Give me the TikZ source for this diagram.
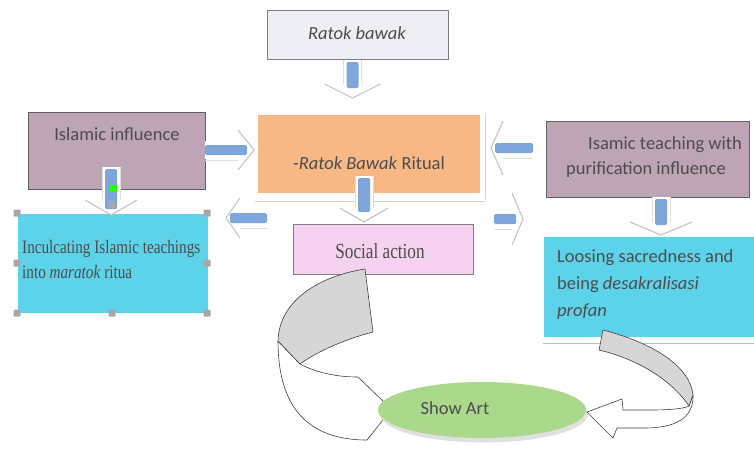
\documentclass[tikz,border=0pt]{standalone}
\usepackage{fontspec}
\setmainfont{Carlito}
\newfontfamily\serifc[FakeStretch=0.8]{Liberation Serif}
\usetikzlibrary{shapes.geometric,calc}
\definecolor{txt}{HTML}{4C4C4C}
\definecolor{lav}{HTML}{EEEEF5}
\definecolor{orng}{HTML}{F8B886}
\definecolor{mauve}{HTML}{BDA5B6}
\definecolor{cyanb}{HTML}{5DD3EA}
\definecolor{pinkb}{HTML}{F5D2F0}
\definecolor{greenb}{HTML}{AAD98C}
\definecolor{barblue}{HTML}{7EA6DA}
\definecolor{chev}{HTML}{C4C4C4}
\definecolor{shaftl}{HTML}{DEDEDE}
\definecolor{bord}{HTML}{606060}
\definecolor{facegray}{HTML}{D6D6D6}
\definecolor{handle}{HTML}{A8A8A8}
\tikzset{
  boxs/.style={rectangle, inner sep=0pt, outer sep=0pt},
  lbl/.style={inner sep=0pt, text=txt, font=\fontsize{18.5}{25}\selectfont},
  slbl/.style={inner sep=0pt, text=txt, font=\serifc\fontsize{19}{25}\selectfont},
  curvearr/.style={draw=black!75, line width=0.6pt, line join=round},
  hdl/.style={fill=handle, rounded corners=1pt},
}
% vertical block arrow: cx, ytop, yhead, ytip, ybarend, halfwidth of head
\newcommand\bkv[6]{%
  \fill[white] (#1-9,#2) -- (#1-9,#3) -- (#1-#6,#3) -- (#1,#4) -- (#1+#6,#3) -- (#1+9,#3) -- (#1+9,#2) -- cycle;
  \draw[shaftl, line width=0.7pt] (#1-9,#2) -- (#1-9,#3) (#1+9,#3) -- (#1+9,#2);
  \draw[chev, line width=1.1pt] (#1-#6,#3) -- (#1,#4) -- (#1+#6,#3);
  \fill[barblue, rounded corners=1.5pt] (#1-6,#2+2) rectangle (#1+6,#5);
}
% horizontal block arrow: cy, xtail, xhead, xtip, xbarend, halfheight of head
\newcommand\bkh[6]{%
  \fill[white] (#2,#1-9) -- (#3,#1-9) -- (#3,#1-#6) -- (#4,#1) -- (#3,#1+#6) -- (#3,#1+9) -- (#2,#1+9) -- cycle;
  \draw[shaftl, line width=0.7pt] (#2,#1+10) -- (#3,#1+10);
  \draw[chev, line width=1.1pt] (#3,#1-#6) -- (#4,#1) -- (#3,#1+#6);
  \fill[barblue, rounded corners=1.5pt] (#2,#1-5) rectangle (#5,#1+5);
}
\begin{document}
\begin{tikzpicture}[x=1pt,y=-1pt]
\useasboundingbox[fill=white] (0,0) rectangle (754,453);

% ---- boxes ----
\node[boxs, fill=lav, draw=bord!80, line width=0.8pt, minimum width=181pt, minimum height=49pt] (rb) at (357.5,34.5) {};
\draw[orng!70!black!40, line width=1pt] (255,201) -- (486,201);
\draw[black!15, line width=0.6pt] (485,113) -- (485,200);
\node[boxs, fill=orng, minimum width=222pt, minimum height=78pt] (rit) at (369,154) {};
\node[boxs, fill=mauve, draw=bord, line width=0.8pt, minimum width=177pt, minimum height=77pt] (isl) at (116.5,151) {};
\node[boxs, fill=cyanb, minimum width=190pt, minimum height=99pt] (inc) at (112.5,263.5) {};
\node[boxs, fill=pinkb, draw=bord!80, line width=0.8pt, minimum width=180pt, minimum height=50pt] (soc) at (383,249) {};
\node[boxs, fill=mauve, draw=bord, line width=0.8pt, minimum width=203pt, minimum height=76pt] (isam) at (647.5,159) {};
\draw[black!25, line width=1pt] (543,343) -- (754,343);
\node[boxs, fill=cyanb, minimum width=212pt, minimum height=100pt] (loos) at (650,287) {};

% ---- texts ----
\node[lbl] (rbt) at (357,33) {\itshape Ratok bawak};
\node[lbl] (ritt) at (369,163) {-\textit{Ratok Bawak} Ritual};
\node[lbl] (islt) at (117,134) {Islamic influence};
\node[slbl, anchor=west, align=left] (inct) at (22,259) {Inculcating Islamic teachings\\into \textit{maratok} ritua};
\node[slbl, font=\serifc\fontsize{21.5}{25}\selectfont] (soct) at (380,251) {Social action};
\node[lbl, anchor=west, align=left] (isamt) at (566,157.5) {\hspace*{22pt}Isamic teaching with\\purification influence};
\node[lbl, anchor=west, align=left, font=\fontsize{18.5}{27}\selectfont] (loost) at (557,285) {Loosing sacredness and\\being \textit{desakralisasi}\\\textit{profan}};

% ---- selection handles on inc ----
\foreach \hx/\hy in {17/213, 207/213, 17/313, 207/313, 17/263, 207/263, 112/313} {
  \fill[hdl] (\hx-3.5,\hy-3.5) rectangle (\hx+3.5,\hy+3.5);
}

% ---- block arrows ----
\bkv{352.5}{60}{84}{98}{88}{28}
\bkv{364}{176}{208}{222}{212}{24}
\bkv{111}{167}{200}{215}{209}{26}
\bkv{661}{197}{222}{235}{225}{31}
\fill[hdl] (108.5,201) rectangle (115.5,208);
\fill[green!80!lime] (109.5,184.5) rectangle (116.5,191.5);
\bkh{150}{205}{238}{254}{247}{20}
\bkh{218}{267}{240}{226}{230}{20}
\bkh{148}{533}{503}{491}{495}{27}
\bkh{219}{494}{512}{523}{516}{26}

% ---- left curved arrow (from Social action down to Show Art) ----
\coordinate (la) at (365,269);
\coordinate (lb) at (373,332);
\coordinate (le) at (278,341);
\coordinate (ld) at (300,364);
\filldraw[curvearr, fill=white] (le) .. controls (278,398) and (300,440) .. (367,440) -- (386,416) -- (386,404) -- (358,377) .. controls (335,377) and (315,372) .. (ld) -- cycle;
\filldraw[curvearr, fill=facegray] (la) .. controls (320,276) and (279,300) .. (le) -- (ld) .. controls (315,353) and (342,340) .. (lb) -- cycle;

% ---- Show Art ellipse ----
\fill[black!12] (484,414) ellipse [x radius=104, y radius=28.5];
\node[ellipse, fill=greenb, inner sep=0pt, minimum width=208pt, minimum height=56pt] (show) at (482,410) {};
\node[lbl] (showt) at (455,408) {Show Art};

% ---- right curved arrow (from Loosing box to Show Art) ----
\coordinate (p1) at (603,330);
\coordinate (p2) at (693,395);
\coordinate (p3) at (689,406);
\coordinate (p4) at (599,350);
\filldraw[curvearr, fill=white] (p2) .. controls (694,420) and (672,428) .. (645,428) -- (617,428) -- (613,438) -- (587,412) -- (622,399) -- (623,410) -- (650,410) .. controls (668,410) and (683,409) .. (p3) -- cycle;
\filldraw[curvearr, fill=facegray] (p1) .. controls (650,342) and (690,365) .. (p2) -- (p3) .. controls (675,385) and (645,361) .. (p4) -- cycle;

\end{tikzpicture}
\end{document}
